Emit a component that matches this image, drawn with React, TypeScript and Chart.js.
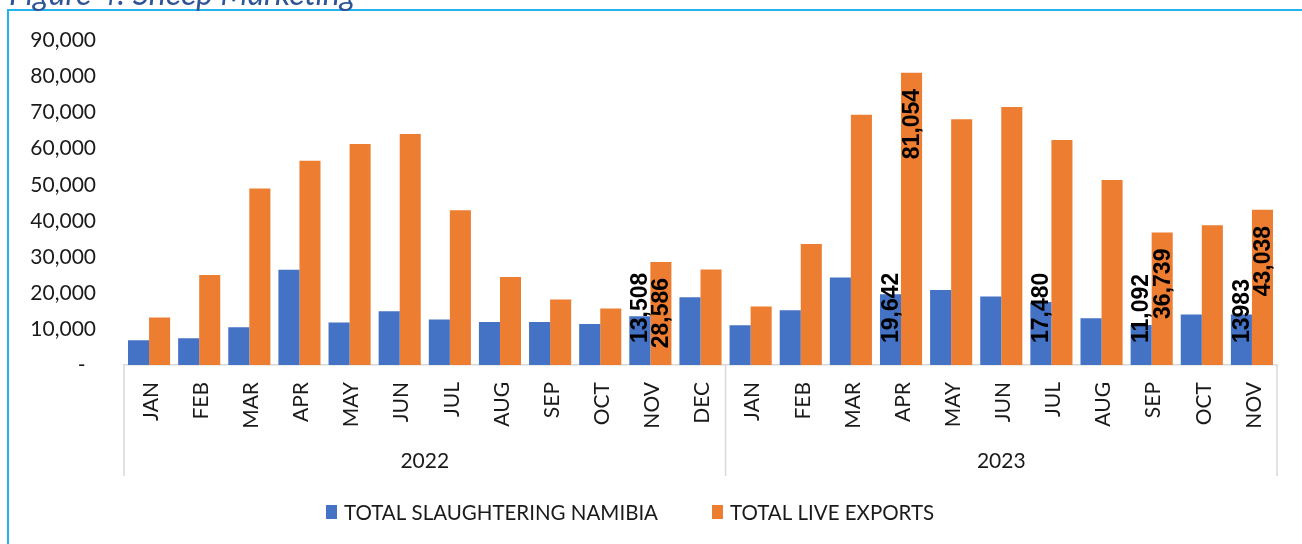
import React, { useEffect, useRef } from "react";
import { Chart, registerables } from "chart.js";

Chart.register(...registerables);

const titleText = "Figure 4: Sheep Marketing";
const months = [
  "JAN", "FEB", "MAR", "APR", "MAY", "JUN", "JUL", "AUG", "SEP", "OCT", "NOV", "DEC",
  "JAN", "FEB", "MAR", "APR", "MAY", "JUN", "JUL", "AUG", "SEP", "OCT", "NOV",
];
const years = ["2022", "2023"];
const monthsPerYear = [12, 11];
const seriesNames = ["TOTAL SLAUGHTERING NAMIBIA", "TOTAL LIVE EXPORTS"];
const slaughtering = [
  6900, 7400, 10500, 26400, 11800, 14900, 12600, 11900, 11900, 11400, 13508, 18800,
  11000, 15200, 24300, 19642, 20800, 19000, 17480, 13000, 11092, 14000, 13983,
];
const liveExports = [
  13200, 25000, 49000, 56700, 61300, 64100, 42900, 24400, 18200, 15700, 28586, 26500,
  16200, 33600, 69400, 81054, 68200, 71600, 62400, 51300, 36739, 38800, 43038,
];
const slaughterLabels: (string | null)[] = [
  null, null, null, null, null, null, null, null, null, null, "13,508", null,
  null, null, null, "19,642", null, null, "17,480", null, "11,092", null, "13983",
];
const exportLabels: (string | null)[] = [
  null, null, null, null, null, null, null, null, null, null, "28,586", null,
  null, null, null, "81,054", null, null, null, null, "36,739", null, "43,038",
];
const yMin = 0;
const yMax = 90000;
const yStep = 10000;
const colors = ["#4472C4", "#ED7D31"];

const decorPlugin = {
  id: "decor",
  beforeDraw(chart: any) {
    const ctx = chart.ctx as CanvasRenderingContext2D;
    ctx.save();
    ctx.fillStyle = "#ffffff";
    ctx.fillRect(0, 0, chart.width, chart.height);
    // frame
    ctx.strokeStyle = "#22B4EC";
    ctx.lineWidth = 2;
    ctx.beginPath();
    ctx.moveTo(8, chart.height + 2);
    ctx.lineTo(8, 10);
    ctx.lineTo(chart.width + 2, 10);
    ctx.stroke();
    // title (cut off at top)
    ctx.font = "italic 32px Lato";
    ctx.fillStyle = "#2F5597";
    ctx.textAlign = "left";
    ctx.textBaseline = "alphabetic";
    ctx.fillText(titleText, 9, 5);
    ctx.restore();
  },
  afterDraw(chart: any) {
    const ctx = chart.ctx as CanvasRenderingContext2D;
    const area = chart.chartArea;
    const xs = chart.scales.x;
    const bottom = area.bottom;
    ctx.save();

    // group separators
    const centers = months.map((_, i) => xs.getPixelForValue(i));
    const bounds: number[] = [area.left];
    let idx = 0;
    monthsPerYear.forEach((n, g) => {
      idx += n;
      if (g < monthsPerYear.length - 1) bounds.push((centers[idx - 1] + centers[idx]) / 2);
    });
    bounds.push(area.right);
    ctx.strokeStyle = "#D9D9D9";
    ctx.lineWidth = 1.5;
    bounds.forEach((b) => {
      ctx.beginPath();
      ctx.moveTo(b, bottom);
      ctx.lineTo(b, bottom + 111);
      ctx.stroke();
    });

    // month labels, rotated -90
    ctx.fillStyle = "#1a1a1a";
    ctx.font = "21px Lato";
    ctx.textAlign = "right";
    ctx.textBaseline = "middle";
    months.forEach((m, i) => {
      ctx.save();
      ctx.translate(centers[i] + 2, bottom + 17);
      ctx.rotate(-Math.PI / 2);
      ctx.fillText(m, 0, 0);
      ctx.restore();
    });

    // year labels
    ctx.font = "21px Lato";
    ctx.textAlign = "center";
    ctx.textBaseline = "middle";
    years.forEach((y, g) => {
      ctx.fillText(y, (bounds[g] + bounds[g + 1]) / 2, bottom + 96);
    });

    // data labels
    ctx.font = "bold 23px 'Liberation Sans'";
    ctx.fillStyle = "#000000";
    ctx.textBaseline = "middle";
    const m0 = chart.getDatasetMeta(0);
    const m1 = chart.getDatasetMeta(1);
    slaughterLabels.forEach((t, i) => {
      if (!t) return;
      const el = m0.data[i];
      ctx.save();
      ctx.translate(el.x + 1, el.base - 22);
      ctx.rotate(-Math.PI / 2);
      ctx.textAlign = "left";
      ctx.fillText(t, 0, 0);
      ctx.restore();
    });
    exportLabels.forEach((t, i) => {
      if (!t) return;
      const el = m1.data[i];
      ctx.save();
      ctx.translate(el.x + 1, el.y + 16);
      ctx.rotate(-Math.PI / 2);
      ctx.textAlign = "right";
      ctx.fillText(t, 0, 0);
      ctx.restore();
    });

    // legend
    const legendY = 512;
    ctx.font = "20.5px Lato";
    ctx.textAlign = "left";
    ctx.textBaseline = "middle";
    const starts = [326, 712];
    seriesNames.forEach((name, i) => {
      ctx.fillStyle = colors[i];
      ctx.fillRect(starts[i], legendY - 7, 11, 14);
      ctx.fillStyle = "#1a1a1a";
      ctx.fillText(name, starts[i] + 18, legendY + 1);
    });

    ctx.restore();
  },
};

export default function App() {
  const ref = useRef<HTMLCanvasElement | null>(null);
  useEffect(() => {
    if (!ref.current) return;
    const chart = new Chart(ref.current, {
      type: "bar",
      data: {
        labels: months,
        datasets: [
          {
            label: seriesNames[0],
            data: slaughtering,
            backgroundColor: colors[0],
            categoryPercentage: 0.84,
            barPercentage: 1,
          },
          {
            label: seriesNames[1],
            data: liveExports,
            backgroundColor: colors[1],
            categoryPercentage: 0.84,
            barPercentage: 1,
          },
        ],
      },
      options: {
        responsive: false,
        animation: false,
        devicePixelRatio: 1,
        layout: { padding: { left: 0, top: 38, right: 25, bottom: 179 } },
        plugins: {
          legend: { display: false },
          tooltip: { enabled: false },
          title: { display: false },
        },
        scales: {
          x: {
            grid: { display: false, drawTicks: false },
            border: { display: true, color: "#D9D9D9", width: 1.5 },
            ticks: { display: false },
            afterFit: (s: any) => {
              s.height = 0;
            },
          },
          y: {
            min: yMin,
            max: yMax,
            grid: { display: false, drawTicks: false },
            border: { display: false },
            ticks: {
              stepSize: yStep,
              padding: 28,
              color: "#1a1a1a",
              font: { family: "Lato", size: 21 },
              callback: (v: any) => (Number(v) === 0 ? "-\u2002" : Number(v).toLocaleString("en-US")),
            },
            afterFit: (s: any) => {
              s.width = 124;
            },
          },
        },
      },
      plugins: [decorPlugin],
    });
    return () => chart.destroy();
  }, []);
  return (
    <div style={{ position: "absolute", left: 0, top: 0, width: 1302, height: 544, overflow: "hidden", background: "#fff" }}>
      <canvas ref={ref} width={1302} height={544} style={{ display: "block", width: 1302, height: 544 }} />
    </div>
  );
}
